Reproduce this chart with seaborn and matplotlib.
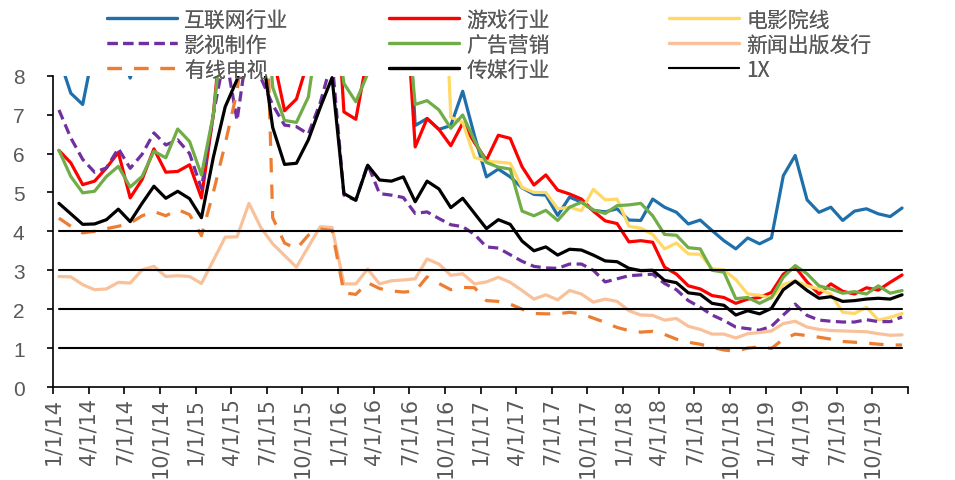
import numpy as np
import pandas as pd
import matplotlib
matplotlib.use("Agg")
import matplotlib.pyplot as plt
import seaborn as sns

# Monthly P/B series, Jan 2014 - Dec 2019
months = pd.date_range("2014-01-01", periods=72, freq="MS")

internet = [8.47, 7.55, 7.26, 8.8, 9.5, 8.8, 7.94, 8.9, 9.5, 10.2, 9.8, 10.5,
            9.6, 11.5, 14.0, 15.0, 16.0, 16.5, 14.5, 12.5, 12.0, 12.8, 13.5, 13.0,
            11.0, 10.5, 11.5, 10.8, 10.0, 12.3, 6.72, 6.9, 6.62, 6.72, 7.6, 6.45,
            5.4, 5.6, 5.4, 5.12, 4.95, 4.93, 4.41, 4.88, 4.75, 4.54, 4.5, 4.58,
            4.29, 4.28, 4.83, 4.62, 4.49, 4.19, 4.29, 4.02, 3.76, 3.55, 3.83, 3.68,
            3.83, 5.43, 5.95, 4.81, 4.49, 4.62, 4.28, 4.52, 4.58, 4.45, 4.38, 4.6]
games = [6.08, 5.76, 5.2, 5.29, 5.63, 6.03, 4.86, 5.33, 6.12, 5.52, 5.54, 5.71,
         4.86, 7.0, 10.2, 10.5, 11.0, 10.0, 8.55, 7.1, 7.4, 8.4, 9.5, 12.0,
         7.07, 6.88, 8.53, 10.5, 10.0, 11.0, 6.17, 6.9, 6.62, 6.2, 6.78, 6.28,
         5.83, 6.47, 6.39, 5.66, 5.19, 5.45, 5.06, 4.96, 4.83, 4.52, 4.27, 4.2,
         3.73, 3.76, 3.72, 3.08, 2.9, 2.6, 2.52, 2.35, 2.3, 2.15, 2.26, 2.3,
         2.43, 2.9, 3.08, 2.7, 2.39, 2.65, 2.46, 2.39, 2.55, 2.49, 2.69, 2.88]
cinema = [14.5, 13.0, 12.0, 12.5, 13.5, 14.0, 12.0, 12.5, 14.0, 13.0, 13.5, 14.0,
          12.0, 16.0, 20.0, 22.0, 25.0, 23.0, 18.0, 16.0, 16.5, 17.0, 18.0, 17.5,
          14.0, 13.5, 15.0, 14.0, 13.0, 12.5, 11.5, 12.0, 14.0, 6.93, 6.8, 5.9,
          5.8, 5.78, 5.75, 5.13, 5.0, 5.0, 4.58, 4.62, 4.53, 5.08, 4.81, 4.83,
          4.13, 4.08, 3.92, 3.55, 3.7, 3.42, 3.41, 3.04, 3.01, 2.76, 2.39, 2.36,
          2.28, 2.63, 2.73, 2.6, 2.52, 2.39, 1.92, 1.89, 2.05, 1.72, 1.79, 1.89]
film_tv = [7.12, 6.4, 5.85, 5.52, 5.63, 6.13, 5.62, 5.98, 6.53, 6.22, 6.35, 6.0,
           5.1, 7.0, 8.6, 6.85, 9.0, 7.95, 7.25, 6.73, 6.69, 6.5, 7.3, 8.4,
           4.93, 4.8, 5.72, 4.97, 4.93, 4.87, 4.46, 4.5, 4.33, 4.17, 4.12, 3.92,
           3.6, 3.57, 3.4, 3.23, 3.1, 3.06, 3.05, 3.16, 3.16, 3.0, 2.7, 2.78,
           2.86, 2.88, 2.9, 2.66, 2.5, 2.22, 2.05, 1.85, 1.71, 1.54, 1.5, 1.46,
           1.56, 1.85, 2.13, 1.84, 1.72, 1.69, 1.67, 1.67, 1.73, 1.68, 1.68, 1.8]
advertising = [6.08, 5.41, 4.99, 5.03, 5.41, 5.67, 5.14, 5.41, 6.06, 5.89, 6.63, 6.31,
               5.45, 7.0, 9.8, 11.0, 11.5, 12.0, 7.7, 6.85, 6.8, 7.45, 9.5, 10.0,
               7.8, 7.33, 8.05, 10.0, 10.5, 10.5, 7.26, 7.36, 7.12, 6.65, 6.99, 6.33,
               5.77, 5.65, 5.6, 4.52, 4.4, 4.54, 4.28, 4.62, 4.75, 4.55, 4.46, 4.66,
               4.68, 4.72, 4.4, 3.92, 3.9, 3.58, 3.55, 3.0, 2.95, 2.27, 2.3, 2.15,
               2.3, 2.82, 3.12, 2.91, 2.6, 2.52, 2.41, 2.45, 2.39, 2.6, 2.41, 2.48]
publishing = [2.84, 2.83, 2.63, 2.5, 2.52, 2.69, 2.67, 3.01, 3.1, 2.84, 2.86, 2.84,
              2.66, 3.25, 3.85, 3.86, 4.72, 4.1, 3.68, 3.38, 3.08, 3.6, 4.12, 4.1,
              2.65, 2.65, 3.03, 2.65, 2.73, 2.75, 2.78, 3.29, 3.16, 2.87, 2.91, 2.65,
              2.7, 2.82, 2.69, 2.48, 2.26, 2.37, 2.24, 2.48, 2.39, 2.18, 2.26, 2.2,
              1.96, 1.85, 1.84, 1.72, 1.76, 1.56, 1.48, 1.36, 1.36, 1.26, 1.37, 1.4,
              1.44, 1.63, 1.69, 1.54, 1.48, 1.45, 1.44, 1.43, 1.42, 1.37, 1.33, 1.34]
cable_tv = [4.34, 4.13, 3.96, 4.0, 4.07, 4.13, 4.21, 4.4, 4.51, 4.4, 4.56, 4.43,
            3.89, 5.0, 6.25, 7.6, 10.0, 15.0, 4.35, 3.7, 3.55, 3.9, 4.06, 4.02,
            2.42, 2.38, 2.68, 2.53, 2.47, 2.44, 2.46, 2.83, 2.66, 2.5, 2.56, 2.55,
            2.22, 2.2, 2.13, 2.0, 1.89, 1.88, 1.88, 1.92, 1.88, 1.77, 1.66, 1.53,
            1.45, 1.41, 1.43, 1.35, 1.23, 1.15, 1.1, 1.02, 0.95, 0.92, 1.0, 1.03,
            0.99, 1.23, 1.36, 1.32, 1.28, 1.23, 1.17, 1.15, 1.13, 1.1, 1.08, 1.08]
media = [4.72, 4.45, 4.18, 4.19, 4.3, 4.57, 4.25, 4.72, 5.16, 4.85, 5.03, 4.84,
         4.35, 5.9, 7.2, 7.9, 9.5, 8.85, 6.67, 5.72, 5.75, 6.35, 7.18, 7.95,
         4.97, 4.8, 5.7, 5.32, 5.29, 5.4, 4.76, 5.29, 5.09, 4.61, 4.85, 4.46,
         4.07, 4.3, 4.18, 3.75, 3.5, 3.6, 3.39, 3.54, 3.52, 3.39, 3.24, 3.22,
         3.05, 2.99, 3.0, 2.74, 2.68, 2.42, 2.38, 2.15, 2.1, 1.85, 1.96, 1.88,
         2.02, 2.5, 2.72, 2.48, 2.28, 2.32, 2.2, 2.22, 2.26, 2.28, 2.26, 2.37]
pb_levels = [1, 2, 3, 4]

names = ["互联网行业", "游戏行业", "电影院线", "影视制作", "广告营销",
         "新闻出版发行", "有线电视", "传媒行业", "1X"]
tick_labels = [f"{d.month}/{d.day}/{d.strftime('%y')}" for d in months[::3]]

sns.set_theme(style="white")
plt.rcParams["font.family"] = ["Liberation Sans", "Noto Sans CJK SC", "DejaVu Sans"]

fig = plt.figure(figsize=(9.55, 4.81), dpi=100)
W, H = 955, 481
ax = fig.add_axes([53 / W, 1 - 388 / H, (908 - 53) / W, (388 - 76.7) / H])

pos = np.arange(len(months)) + 0.5

styles = [
    (names[0], internet, "#1f6fab", 2.3, "-"),
    (names[1], games, "#ff0000", 2.3, "-"),
    (names[2], cinema, "#ffd966", 2.3, "-"),
    (names[3], film_tv, "#7030a0", 2.3, (0, (3.2, 1.7))),
    (names[4], advertising, "#70ad47", 2.3, "-"),
    (names[5], publishing, "#f8c19a", 2.3, "-"),
    (names[6], cable_tv, "#ed7d31", 2.3, (0, (4.5, 3.8))),
    (names[7], media, "#000000", 2.3, "-"),
]

handles = {}
for name, vals, color, lw, ls in styles:
    sns.lineplot(x=pos, y=vals, color=color, linewidth=lw, linestyle=ls,
                 ax=ax, legend=False)
    handles[name] = ax.lines[-1]

for level in pb_levels:
    sns.lineplot(x=pos, y=np.full(len(pos), level), color="black",
                 linewidth=1.5, ax=ax, legend=False)
    if level == 1:
        handles[names[8]] = ax.lines[-1]

ax.set_xlim(0, len(months))
ax.set_ylim(0, 8)
ax.set_yticks(range(0, 9))
ax.set_xticks(np.arange(0, len(months) + 1, 3))
ax.set_xticklabels(tick_labels + [""], rotation=90, family="DejaVu Sans")

for side in ["top", "right"]:
    ax.spines[side].set_visible(False)
for side in ["left", "bottom"]:
    ax.spines[side].set_color("black")
    ax.spines[side].set_linewidth(1.2)

ax.tick_params(axis="y", which="major", direction="out", length=4.5, width=1.2,
               color="black", left=True, labelsize=15, labelcolor="#595959", pad=16)
ax.tick_params(axis="x", which="major", direction="out", length=5, width=1.2,
               color="black", bottom=True, labelsize=15, labelcolor="#595959", pad=2)
ax.set_xlabel("")
ax.set_ylabel("")
ax.grid(False)

# legend laid out as three columns, entries read row by row
cols = [[names[0], names[3], names[6]],
        [names[1], names[4], names[7]],
        [names[2], names[5], names[8]]]
col_x = [107, 389, 669]
fsz = 15
for cx, col in zip(col_x, cols):
    leg = fig.legend([handles[n] for n in col], col, loc="upper left",
                     bbox_to_anchor=(cx / W, 1 - 9.5 / H), frameon=False,
                     prop={"family": ["Noto Sans CJK SC", "Liberation Sans"], "size": fsz},
                     handlelength=3.35, handletextpad=0.36, labelspacing=0.15,
                     borderpad=0, borderaxespad=0, labelcolor="#595959")
    fig.add_artist(leg)

fig.savefig("out.png", dpi=100)
